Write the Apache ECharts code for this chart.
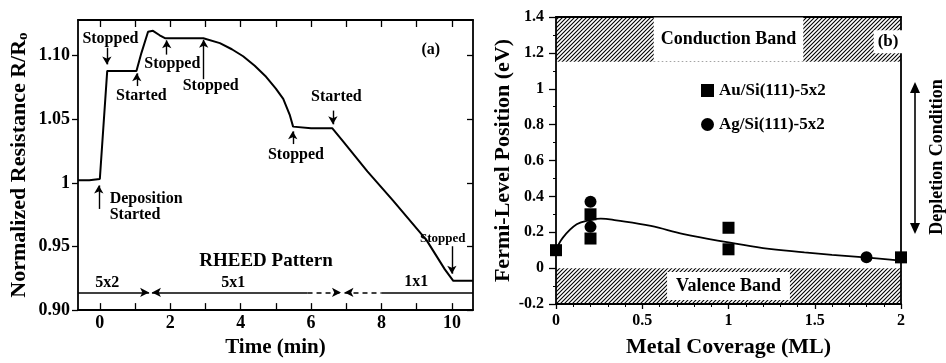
<!DOCTYPE html>
<html>
<head>
<meta charset="utf-8">
<script src="https://cdn.jsdelivr.net/npm/echarts@6/dist/echarts.min.js"></script>
<style>
  html, body { margin: 0; padding: 0; background: #fff; }
  #chart { width: 946px; height: 363px; }
</style>
</head>
<body>
<div id="chart"></div>
<script>
// ---------- Panel (a): normalized resistance vs. deposition time ----------
const timeMin = [-0.62, -0.3, 0.0, 0.21, 0.6, 1.04, 1.18, 1.37, 1.51, 1.7, 1.85, 2.5, 2.94,
  3.41, 3.75, 4.07, 4.4, 4.7, 5.0, 5.21, 5.4, 5.49, 6.0, 6.6, 6.91, 7.6, 8.33, 9.28, 9.8, 10.04, 10.6];
const resistance = [1.002, 1.002, 1.003, 1.088, 1.088, 1.088, 1.102, 1.1188, 1.1195, 1.116, 1.1137, 1.1137, 1.1137,
  1.1098, 1.105, 1.0995, 1.092, 1.084, 1.074, 1.066, 1.053, 1.0442, 1.043, 1.043, 1.0326, 1.009, 0.986, 0.955, 0.932, 0.923, 0.923];

const timeTicks = [0, 1, 2, 3, 4, 5, 6, 7, 8, 9, 10];
const timeTickLabels = [0, 2, 4, 6, 8, 10];
const resTicks = [0.90, 0.95, 1.00, 1.05, 1.10];
const resTickLabels = ['0.90', '0.95', '1', '1.05', '1.10'];

// Event notes on the resistance trace
const noteText = ['Stopped', 'Started', 'Stopped', 'Stopped', 'Started', 'Stopped',
  'Deposition\nStarted', 'Stopped', '(a)', 'RHEED Pattern', '5x2', '5x1', '1x1'];
const noteT = [0.30, 1.18, 2.06, 3.15, 6.72, 5.57, 0.28, 9.74, 9.40, 4.72, 0.21, 3.79, 8.99];
const noteR = [1.1131, 1.0683, 1.0938, 1.0761, 1.0676, 1.022, 0.9811, 0.9564, 1.1046, 0.9386, 0.9216, 0.9216, 0.9224];

// Pointer arrows: time, tail value, head value
const arrowT = [0.2, 1.05, 1.9, 2.95, 6.62, 5.48, -0.03, 10.0];
const arrowFrom = [1.1062, 1.0761, 1.1008, 1.0815, 1.0568, 1.0305, 0.9795, 0.9502];
const arrowTo = [1.0931, 1.0861, 1.1120, 1.1124, 1.0460, 1.0405, 0.9980, 0.9286];

// RHEED pattern ranges along the baseline
const rheedLevel = 0.9139;
const rheedStart = [-0.62, 1.48, 5.9, 6.95, 8.0];
const rheedEnd = [1.40, 5.9, 6.85, 8.0, 10.6];
const rheedDashed = [false, false, true, true, false];
const rheedHeadAtEnd = [true, false, true, false, false];
const rheedHeadAtStart = [false, true, false, true, false];

// ---------- Panel (b): Fermi-level position vs. metal coverage ----------
const auCoverage = [0, 0.2, 0.2, 1, 1, 2];
const auFermi = [0.10, 0.30, 0.165, 0.225, 0.105, 0.06];
const agCoverage = [0.2, 0.2, 1.8];
const agFermi = [0.37, 0.23, 0.06];
const fitCoverage = [0, 0.04, 0.12, 0.2, 0.26, 0.35, 0.55, 0.74, 1.0, 1.2, 1.44, 1.6, 1.79, 2.0];
const fitFermi = [0.10, 0.17, 0.244, 0.268, 0.276, 0.266, 0.235, 0.189, 0.143, 0.112, 0.088, 0.074, 0.06, 0.042];
const conductionEdge = 1.15;
const valenceEdge = 0;

const SERIF = '"Liberation Serif", "DejaVu Serif", serif';
const INK = '#000';

// diagonal hatching for the band regions
function makeHatch() {
  const c = document.createElement('canvas');
  c.width = 4; c.height = 4;
  const g = c.getContext('2d');
  g.strokeStyle = '#000';
  g.lineWidth = 1.1;
  g.beginPath();
  g.moveTo(0, 4); g.lineTo(4, 0);
  g.moveTo(-1, 1); g.lineTo(1, -1);
  g.moveTo(3, 5); g.lineTo(5, 3);
  g.stroke();
  return { image: c, repeat: 'repeat' };
}
const hatch = makeHatch();

const chart = echarts.init(document.getElementById('chart'));

const bold = (size) => ({ fontFamily: SERIF, fontWeight: 'bold', fontSize: size, color: INK });

const noteData = noteText.map((txt, i) => {
  let size = 16;
  let extra = {};
  if (txt === 'RHEED Pattern') size = 19;
  if (i === 7) size = 13;
  if (txt.indexOf('Deposition') === 0) extra = { align: 'left', lineHeight: 16 };
  return {
    value: [noteT[i], noteR[i]],
    label: Object.assign({ show: true, position: 'inside', formatter: txt }, bold(size), extra)
  };
});

const arrowData = arrowT.map((t, i) => [
  { coord: [t, arrowFrom[i]] },
  { coord: [t, arrowTo[i]] }
]);

const rheedData = rheedStart.map((s, i) => [
  { coord: [s, rheedLevel], symbol: rheedHeadAtStart[i] ? 'arrow' : 'none',
    lineStyle: { type: rheedDashed[i] ? [5, 4] : 'solid', color: INK, width: 1.6 } },
  { coord: [rheedEnd[i], rheedLevel], symbol: rheedHeadAtEnd[i] ? 'arrow' : 'none' }
]);

const axisLineStyle = { show: true, onZero: false, lineStyle: { color: INK, width: 1.8 } };

const option = {
  animation: false,
  backgroundColor: '#fff',
  grid: [
    { left: 78, top: 20, width: 395, height: 296 },
    { left: 556, top: 17, width: 345, height: 290 }
  ],
  legend: {
    left: 701, top: 82, padding: 0, orient: 'vertical',
    itemWidth: 13, itemHeight: 13, itemGap: 17, itemTextGap: 14,
    textStyle: bold(17),
    data: ['Au/Si(111)-5x2', 'Ag/Si(111)-5x2']
  },
  xAxis: [
    {
      gridIndex: 0, type: 'value', min: -0.62, max: 10.6, position: 'bottom',
      name: 'Time (min)', nameLocation: 'middle', nameGap: 24,
      nameTextStyle: bold(21),
      axisLine: axisLineStyle,
      axisTick: { show: true, inside: true, length: 7, customValues: timeTicks, lineStyle: { color: INK, width: 1.3 } },
      axisLabel: Object.assign({ customValues: timeTickLabels, margin: 4 }, bold(18)),
      splitLine: { show: false }
    },
    {
      gridIndex: 0, type: 'value', min: -0.62, max: 10.6, position: 'top',
      axisLine: axisLineStyle,
      axisTick: { show: true, inside: true, length: 7, customValues: timeTicks, lineStyle: { color: INK, width: 1.3 } },
      axisLabel: { show: false },
      splitLine: { show: false }
    },
    {
      gridIndex: 1, type: 'value', min: 0, max: 2, interval: 0.5, position: 'bottom',
      name: 'Metal Coverage (ML)', nameLocation: 'middle', nameGap: 32,
      nameTextStyle: bold(22),
      axisLine: axisLineStyle,
      axisTick: { show: true, inside: false, length: 5, lineStyle: { color: INK, width: 1.3 } },
      minorTick: { show: true, splitNumber: 5, length: 3, lineStyle: { color: INK, width: 1 } },
      axisLabel: Object.assign({ margin: 9 }, bold(16)),
      splitLine: { show: false }
    },
    {
      gridIndex: 1, type: 'value', min: 0, max: 2, position: 'top',
      axisLine: axisLineStyle, axisTick: { show: false }, axisLabel: { show: false },
      splitLine: { show: false }
    }
  ],
  yAxis: [
    {
      gridIndex: 0, type: 'value', min: 0.90, max: 1.128, position: 'left',
      name: 'Normalized Resistance R/R{s|o}', nameLocation: 'middle', nameGap: 47,
      nameTextStyle: Object.assign({}, bold(22), { rich: { s: { fontFamily: SERIF, fontWeight: 'bold', fontSize: 15, color: INK, padding: [8, 0, 0, 0] } } }),
      axisLine: axisLineStyle,
      axisTick: { show: true, inside: false, length: 6, customValues: resTicks, lineStyle: { color: INK, width: 1.3 } },
      axisLabel: Object.assign({
        customValues: resTicks, margin: 8,
        formatter: (v) => {
          const k = resTicks.findIndex((r) => Math.abs(r - v) < 1e-6);
          return k >= 0 ? resTickLabels[k] : '';
        }
      }, bold(18)),
      splitLine: { show: false }
    },
    {
      gridIndex: 0, type: 'value', min: 0.90, max: 1.128, position: 'right',
      axisLine: axisLineStyle,
      axisTick: { show: true, inside: true, length: 6, customValues: resTicks, lineStyle: { color: INK, width: 1.3 } },
      axisLabel: { show: false },
      splitLine: { show: false }
    },
    {
      gridIndex: 1, type: 'value', min: -0.2, max: 1.4, interval: 0.2, position: 'left',
      name: 'Fermi-Level Position (eV)', nameLocation: 'middle', nameGap: 42,
      nameTextStyle: bold(22),
      axisLine: axisLineStyle,
      axisTick: { show: true, inside: false, length: 7, lineStyle: { color: INK, width: 1.3 } },
      minorTick: { show: true, splitNumber: 2, length: 3, lineStyle: { color: INK, width: 1 } },
      axisLabel: Object.assign({ margin: 12 }, bold(16)),
      splitLine: { show: false }
    },
    {
      gridIndex: 1, type: 'value', min: -0.2, max: 1.4, position: 'right',
      axisLine: axisLineStyle, axisTick: { show: false }, axisLabel: { show: false },
      splitLine: { show: false }
    }
  ],
  series: [
    {
      name: 'R/R0', type: 'line', xAxisIndex: 0, yAxisIndex: 0,
      data: timeMin.map((t, i) => [t, resistance[i]]),
      showSymbol: false, symbol: 'none', smooth: false,
      lineStyle: { color: INK, width: 2 },
      silent: true,
      markLine: {
        silent: true, symbol: ['none', 'arrow'], symbolSize: [7, 8],
        label: { show: false },
        lineStyle: { color: INK, width: 1.4, type: 'solid' },
        data: arrowData
      }
    },
    {
      name: 'RHEED', type: 'line', xAxisIndex: 0, yAxisIndex: 0,
      data: [], silent: true,
      markLine: {
        silent: true, symbolSize: [7, 9],
        label: { show: false },
        lineStyle: { color: INK, width: 1.6 },
        data: rheedData
      }
    },
    {
      name: 'notes', type: 'scatter', xAxisIndex: 0, yAxisIndex: 0,
      symbolSize: 0, silent: true, itemStyle: { opacity: 1 }, data: noteData
    },
    {
      name: 'fit', type: 'line', xAxisIndex: 2, yAxisIndex: 2,
      data: fitCoverage.map((x, i) => [x, fitFermi[i]]),
      smooth: 0.4, showSymbol: false, symbol: 'none',
      lineStyle: { color: INK, width: 1.8 }, silent: true, z: 3
    },
    {
      name: 'Au/Si(111)-5x2', type: 'scatter', xAxisIndex: 2, yAxisIndex: 2,
      symbol: 'rect', symbolSize: 12, itemStyle: { color: INK, opacity: 1 },
      data: auCoverage.map((x, i) => [x, auFermi[i]]), z: 4,
      markArea: {
        silent: true,
        itemStyle: { color: hatch, opacity: 1 },
        data: [
          [
            { yAxis: conductionEdge, label: Object.assign({ show: true, position: 'inside', formatter: 'Conduction Band',
              backgroundColor: '#fff', padding: [12, 7], lineHeight: 20 }, bold(18)) },
            { yAxis: 1.4 }
          ],
          [
            { yAxis: -0.2, label: Object.assign({ show: true, position: 'inside', formatter: 'Valence Band',
              backgroundColor: '#fff', padding: [4, 9], lineHeight: 20 }, bold(18)) },
            { yAxis: valenceEdge }
          ]
        ]
      },
      markPoint: {
        silent: true, symbol: 'rect', symbolSize: 0,
        data: [{ coord: [1.925, 1.262], label: Object.assign({ show: true, position: 'inside', formatter: '(b)',
          backgroundColor: '#fff', padding: [3, 4] }, bold(17)) }]
      }
    },
    {
      name: 'Ag/Si(111)-5x2', type: 'scatter', xAxisIndex: 2, yAxisIndex: 2,
      symbol: 'circle', symbolSize: 12, itemStyle: { color: INK, opacity: 1 },
      data: agCoverage.map((x, i) => [x, agFermi[i]]), z: 4
    }
  ],
  graphic: [
    {
      type: 'text', x: 937, y: 157, rotation: Math.PI / 2,
      style: { text: 'Depletion Condition', font: 'bold 18px ' + SERIF, fill: INK, align: 'center', verticalAlign: 'middle' }
    },
    { type: 'line', shape: { x1: 915, y1: 90, x2: 915, y2: 226 }, style: { stroke: INK, lineWidth: 1.6 } },
    { type: 'polygon', shape: { points: [[915, 82], [910, 93], [920, 93]] }, style: { fill: INK } },
    { type: 'polygon', shape: { points: [[915, 234], [910, 223], [920, 223]] }, style: { fill: INK } }
  ]
};

chart.setOption(option);
</script>
</body>
</html>
